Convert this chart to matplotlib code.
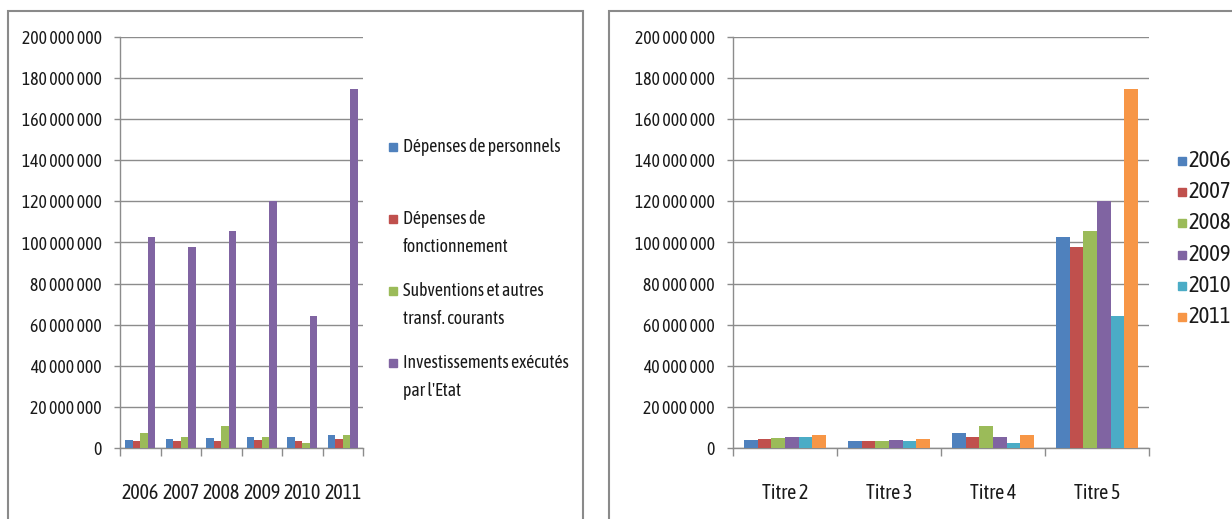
import numpy as np
import matplotlib.pyplot as plt
from matplotlib import font_manager as fm
from matplotlib.textpath import TextPath
from matplotlib.patches import Rectangle
from matplotlib.ticker import FuncFormatter, FixedLocator

# pick a narrow humanist face (the source chart uses a squeezed Calibri)
installed = {f.name for f in fm.fontManager.ttflist}
font = 'Liberation Sans'
for cand in ['Asap Condensed', 'Archivo Narrow', 'Liberation Sans Narrow', 'Liberation Sans']:
    if cand in installed:
        font = cand
        break
plt.rcParams['font.family'] = [font, 'DejaVu Sans']
fp = fm.FontProperties(family=font)


def size_for(s, px):
    # font size (pt) that makes string s about px pixels wide at dpi 100
    w = TextPath((0, 0), s, size=1, prop=fp).get_extents().width
    return px / w * 0.72


# data
years = ['2006', '2007', '2008', '2009', '2010', '2011']
titres = ['Titre 2', 'Titre 3', 'Titre 4', 'Titre 5']
labels_left = ['Dépenses de personnels', 'Dépenses de\nfonctionnement',
               'Subventions et autres\ntransf. courants', "Investissements exécutés\npar l'Etat"]
titre2 = [3.7e6, 4.4e6, 5.0e6, 5.5e6, 5.5e6, 6.2e6]
titre3 = [3.3e6, 3.3e6, 3.3e6, 3.7e6, 3.3e6, 4.5e6]
titre4 = [7.4e6, 5.2e6, 10.7e6, 5.2e6, 2.2e6, 6.2e6]
titre5 = [102.5e6, 98.0e6, 105.5e6, 120.0e6, 64.0e6, 174.5e6]
yticks = np.arange(0, 200000001, 20000000)

series = np.array([titre2, titre3, titre4, titre5])   # rows = titres, cols = years
cols_left = ['#4F81BD', '#C0504D', '#9BBB59', '#8064A2']
cols_right = ['#4F81BD', '#C0504D', '#9BBB59', '#8064A2', '#4BACC6', '#F79646']
grid_col = '#8c8c8c'
txt_col = '#1a1a1a'

fs_tick = size_for('200 000 000', 78)
fs_xlab = size_for('Titre 2', 45)
fs_legl = size_for('Dépenses de personnels', 155)
fs_legr = size_for('2006', 41)

W, H = 1232, 519
fig = plt.figure(figsize=(W / 100, H / 100), dpi=100)

# panel borders
fig.patches.append(Rectangle((8 / W, -0.1), (583 - 8) / W, 1.1 - 11 / H, transform=fig.transFigure,
                             fill=False, edgecolor='#8a8a8a', lw=1.5))
fig.patches.append(Rectangle((609 / W, -0.1), 0.6, 1.1 - 11 / H, transform=fig.transFigure,
                             fill=False, edgecolor='#8a8a8a', lw=1.5))


def style_axes(ax, ncat, catlabels):
    ax.set_ylim(0, 200000000)
    ax.set_xlim(0, ncat)
    ax.set_yticks(yticks)
    ax.yaxis.set_major_formatter(FuncFormatter(lambda v, p: '{:,.0f}'.format(v).replace(',', ' ')))
    ax.yaxis.grid(True, color=grid_col, lw=1)
    ax.set_axisbelow(True)
    for s in ['top', 'right']:
        ax.spines[s].set_visible(False)
    for s in ['left', 'bottom']:
        ax.spines[s].set_color(grid_col)
        ax.spines[s].set_linewidth(1)
    ax.set_xticks(np.arange(ncat) + 0.5)
    ax.set_xticklabels(catlabels)
    ax.xaxis.set_minor_locator(FixedLocator(np.arange(ncat + 1)))
    ax.tick_params(axis='x', which='major', length=0, pad=25, labelsize=fs_xlab, labelcolor=txt_col)
    ax.tick_params(axis='x', which='minor', length=6, color=grid_col, width=1)
    ax.tick_params(axis='y', length=4, color=grid_col, width=1, pad=9, labelsize=fs_tick, labelcolor=txt_col)


# left chart: by year, one bar per titre
axl = fig.add_axes([120 / W, (H - 448) / H, (363 - 120) / W, (448 - 37) / H])
x = np.arange(len(years))
bw = 0.185
for i in range(len(titres)):
    axl.bar(x + 0.5 + (i - 1.5) * bw, series[i], bw, color=cols_left[i], zorder=3)
style_axes(axl, len(years), years)

# right chart: by titre, one bar per year
axr = fig.add_axes([733 / W, (H - 448) / H, (1149 - 733) / W, (448 - 37) / H])
x2 = np.arange(len(titres))
bw2 = 0.131
for j in range(len(years)):
    axr.bar(x2 + 0.5 + (j - 2.5) * bw2, series[:, j], bw2, color=cols_right[j], zorder=3)
style_axes(axr, len(titres), titres)

# left legend
sq = 8
y0 = 147
for i, lab in enumerate(labels_left):
    yc = y0 + i * 72
    fig.patches.append(Rectangle((389 / W, 1 - (yc + sq / 2) / H), sq / W, sq / H,
                                 transform=fig.transFigure, color=cols_left[i]))
    for k, line in enumerate(lab.split('\n')):
        fig.text(403 / W, 1 - (yc + k * 28) / H, line, ha='left', va='center',
                 fontsize=fs_legl, color=txt_col)

# right legend
y0 = 161
for j, lab in enumerate(years):
    yc = y0 + j * 31.2
    fig.patches.append(Rectangle((1178 / W, 1 - (yc + sq / 2) / H), sq / W, sq / H,
                                 transform=fig.transFigure, color=cols_right[j]))
    fig.text(1188 / W, 1 - yc / H, lab, ha='left', va='center', fontsize=fs_legr, color=txt_col)

fig.savefig('out.png', dpi=100)
